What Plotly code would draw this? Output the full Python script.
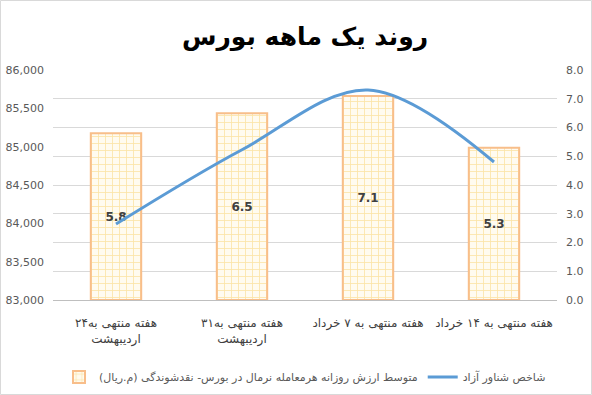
import plotly.graph_objects as go

categories = [
    "هفته منتهی به۲۴<br>اردیبهشت",
    "هفته منتهی به۳۱<br>اردیبهشت",
    "هفته منتهی به ۷ خرداد",
    "هفته منتهی به ۱۴ خرداد",
]
bar_values = [5.8, 6.5, 7.1, 5.3]
line_values = [83990, 84960, 85740, 84800]
bar_name = "متوسط ارزش روزانه هرمعامله نرمال در بورس- نقدشوندگی (م.ریال)"
line_name = "شاخص شناور آزاد"
title_text = "روند یک ماهه بورس"

W, H = 592, 395
ML, MR, MT, MB = 53, 35, 70, 95
pw, ph = W - ML - MR, H - MT - MB

fig = go.Figure()
fig.add_trace(go.Bar(
    x=categories, y=bar_values, name=bar_name, yaxis="y",
    text=["<b>" + f"{v:.1f}" + "</b>" for v in bar_values], textposition="inside",
    insidetextanchor="middle",
    textfont=dict(size=12, color="#404040", family="DejaVu Sans"),
    marker=dict(color="#FFF8E6",
                line=dict(color="#F8BE8A", width=2),
                pattern=dict(shape="+", fgcolor="#F6CC5C", bgcolor="#FFFBF0",
                             size=7, solidity=0.22)),
))
fig.add_trace(go.Scatter(
    x=categories, y=line_values, name=line_name, yaxis="y2",
    mode="lines", line=dict(color="#5B9BD5", width=3, shape="spline", smoothing=1.0),
))

fig.update_layout(
    width=W, height=H,
    margin=dict(l=ML, r=MR, t=MT, b=MB, autoexpand=False),
    paper_bgcolor="white", plot_bgcolor="white",
    title=dict(text="<b>" + title_text + "</b>", x=0.5, xanchor="center",
               xref="paper", yref="container",
               y=1 - 36 / H, yanchor="middle",
               font=dict(size=25, color="black", family="DejaVu Sans")),
    bargap=0.6,
    showlegend=True,
    legend=dict(orientation="h", x=0.5, xanchor="center",
                yref="container", y=1 - 377 / H, yanchor="middle",
                font=dict(size=11, color="#595959", family="DejaVu Sans"),
                traceorder="normal"),
    xaxis=dict(showgrid=False, showline=True, linecolor="#BFBFBF", linewidth=1,
               ticks="", automargin=False, ticklabelstandoff=12,
               tickfont=dict(size=12, color="#404040", family="DejaVu Sans")),
    yaxis=dict(side="right", range=[0, 8], dtick=1, tickformat=".1f",
               showgrid=True, gridcolor="#D9D9D9", zeroline=False,
               showline=False, ticklabelstandoff=8, automargin=False,
               tickfont=dict(size=11, color="#595959", family="DejaVu Sans")),
    yaxis2=dict(side="left", overlaying="y", range=[83000, 86000], dtick=500,
                tickformat=",", showgrid=False, zeroline=False, showline=False,
                ticklabelstandoff=8, automargin=False,
                tickfont=dict(size=11, color="#595959", family="DejaVu Sans")),
    shapes=[dict(type="rect", xref="paper", yref="paper",
                 x0=-ML / pw + 0.5 / pw, x1=1 + MR / pw - 0.5 / pw,
                 y0=-MB / ph + 0.5 / ph, y1=1 + MT / ph - 0.5 / ph,
                 line=dict(color="#D9D9D9", width=1), layer="below")],
)

fig.write_html("out.html", config={"displayModeBar": False},
               post_script="document.body.style.margin='0';document.body.style.overflow='hidden';")
